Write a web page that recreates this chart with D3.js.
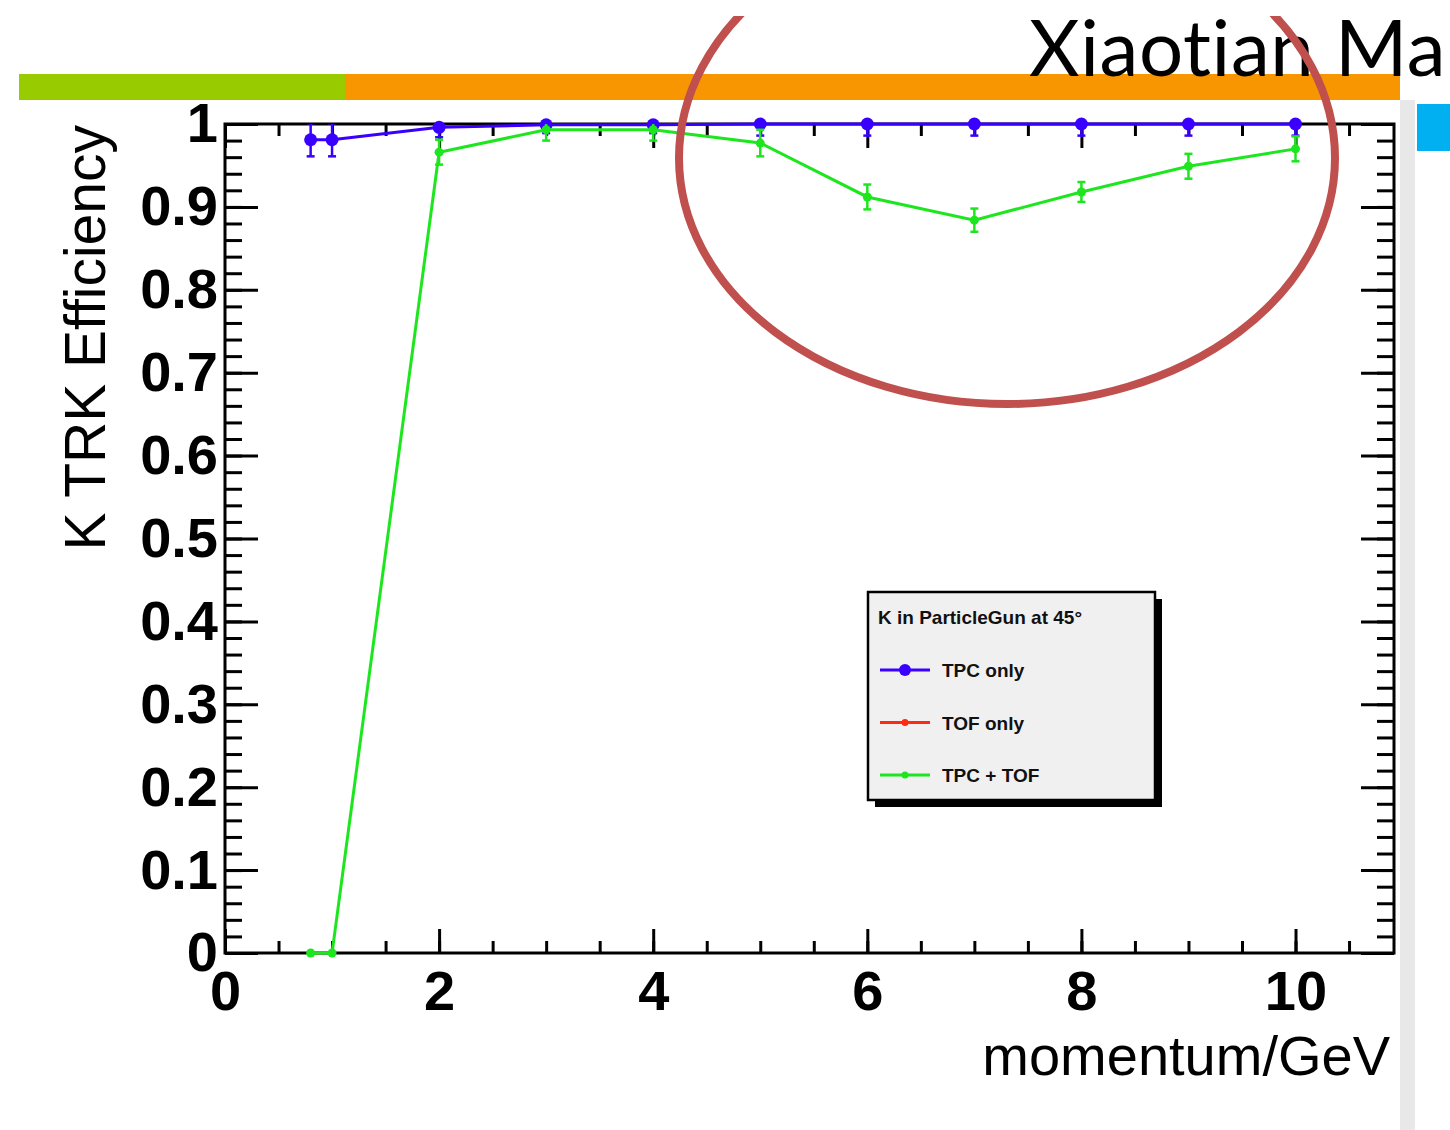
<!DOCTYPE html>
<html>
<head>
<meta charset="utf-8">
<script src="https://cdn.jsdelivr.net/npm/d3@7"></script>
<style>
  html, body { margin: 0; padding: 0; background: #ffffff; }
  svg { display: block; }
</style>
</head>
<body>
<script>
// Kaon tracking efficiency vs. momentum (particle gun at 45 degrees)
const momentum   = [0.8, 1, 2, 3, 4, 5, 6, 7, 8, 9, 10];
const tpcOnly    = [0.981, 0.981, 0.996, 0.999, 0.999, 1.0, 1.0, 1.0, 1.0, 1.0, 1.0];
const tpcOnlyErr = [0.020, 0.020, 0.012, 0.010, 0.010, 0.014, 0.014, 0.014, 0.014, 0.014, 0.014];
const tpcTof     = [0, 0, 0.966, 0.993, 0.993, 0.977, 0.912, 0.884, 0.918, 0.949, 0.970];
const tpcTofErr  = [0, 0, 0.015, 0.013, 0.013, 0.016, 0.015, 0.014, 0.012, 0.015, 0.015];

const xMajorTicks = [0, 2, 4, 6, 8, 10];
const xMinorTicks = d3.range(0, 11, 0.5);
const yMajorTicks = [0, 0.1, 0.2, 0.3, 0.4, 0.5, 0.6, 0.7, 0.8, 0.9, 1];
const yMinorTicks = d3.range(0, 51).map(i => i / 50);

const legendTitle = "K in ParticleGun at 45\u00B0";
const legendNames = ["TPC only", "TOF only", "TPC + TOF"];
const legendColors = ["#3a00ff", "#ff2a12", "#1ee61e"];

const slideTitle = "Xiaotian Ma";
const xTitle = "momentum/GeV";
const yTitle = "K TRK Efficiency";

const W = 1450, H = 1130;
const svg = d3.select("body").append("svg")
  .attr("width", W).attr("height", H)
  .attr("viewBox", `0 0 ${W} ${H}`);

svg.append("rect").attr("width", W).attr("height", H).attr("fill", "#ffffff");

// slide decoration
svg.append("rect").attr("x", 1400).attr("y", 100).attr("width", 15).attr("height", H - 100).attr("fill", "#e8e8e8");
svg.append("rect").attr("x", 19).attr("y", 74).attr("width", 326).attr("height", 26).attr("fill", "#99cc00");
svg.append("rect").attr("x", 345).attr("y", 74).attr("width", 1055).attr("height", 26).attr("fill", "#f79600");
svg.append("rect").attr("x", 1417).attr("y", 104).attr("width", 40).attr("height", 47).attr("fill", "#00b0f0");

svg.append("text")
  .attr("x", 1029).attr("y", 76)
  .attr("font-family", "Lato, 'Open Sans', sans-serif")
  .attr("font-size", 78)
  .attr("letter-spacing", 0.6)
  .style("font-variant-ligatures", "none")
  .style("font-feature-settings", "'liga' 0, 'clig' 0")
  .attr("fill", "#000")
  .text(slideTitle);

// plot frame geometry
const frameL = 225, frameR = 1394, frameT = 124, frameB = 953;
const x = d3.scaleLinear().domain([0, 10.92]).range([frameL, frameR]);
const y = d3.scaleLinear().domain([0, 1]).range([frameB, frameT]);

const fontAxis = "'Liberation Sans', Arial, Helvetica, sans-serif";

function styleAxis(g) {
  g.select(".domain").remove();
  g.selectAll(".tick line").attr("stroke", "#000").attr("stroke-width", 3);
}

// minor ticks
svg.append("g").attr("transform", `translate(0,${frameB})`)
  .call(d3.axisBottom(x).tickValues(xMinorTicks).tickSize(-12).tickFormat(""))
  .call(styleAxis);
svg.append("g").attr("transform", `translate(0,${frameT})`)
  .call(d3.axisTop(x).tickValues(xMinorTicks).tickSize(-12).tickFormat(""))
  .call(styleAxis);
svg.append("g").attr("transform", `translate(${frameL},0)`)
  .call(d3.axisLeft(y).tickValues(yMinorTicks).tickSize(-17).tickFormat(""))
  .call(styleAxis);
svg.append("g").attr("transform", `translate(${frameR},0)`)
  .call(d3.axisRight(y).tickValues(yMinorTicks).tickSize(-17).tickFormat(""))
  .call(styleAxis);

// major ticks with labels
const xAx = svg.append("g").attr("transform", `translate(0,${frameB})`)
  .call(d3.axisBottom(x).tickValues(xMajorTicks).tickSize(-24).tickPadding(17).tickFormat(d => String(d)))
  .call(styleAxis);
xAx.selectAll(".tick text")
  .attr("font-family", fontAxis).attr("font-weight", "bold").attr("font-size", 56).attr("fill", "#000");

svg.append("g").attr("transform", `translate(0,${frameT})`)
  .call(d3.axisTop(x).tickValues(xMajorTicks).tickSize(-24).tickFormat(""))
  .call(styleAxis);

const yAx = svg.append("g").attr("transform", `translate(${frameL},0)`)
  .call(d3.axisLeft(y).tickValues(yMajorTicks).tickSize(-33).tickPadding(7).tickFormat(d => String(d)))
  .call(styleAxis);
yAx.selectAll(".tick text")
  .attr("font-family", fontAxis).attr("font-weight", "bold").attr("font-size", 56).attr("fill", "#000");

svg.append("g").attr("transform", `translate(${frameR},0)`)
  .call(d3.axisRight(y).tickValues(yMajorTicks).tickSize(-33).tickFormat(""))
  .call(styleAxis);

// frame
svg.append("rect")
  .attr("x", frameL).attr("y", frameT).attr("width", frameR - frameL).attr("height", frameB - frameT)
  .attr("fill", "none").attr("stroke", "#000").attr("stroke-width", 3);

// axis titles
svg.append("text")
  .attr("x", 1390).attr("y", 1075)
  .attr("text-anchor", "end")
  .attr("font-family", fontAxis).attr("font-size", 56).attr("fill", "#000")
  .text(xTitle);

svg.append("text")
  .attr("transform", `translate(105,125) rotate(-90)`)
  .attr("text-anchor", "end")
  .attr("font-family", fontAxis).attr("font-size", 57).attr("fill", "#000")
  .text(yTitle);

// data
svg.append("clipPath").attr("id", "plotClip")
  .append("rect").attr("x", frameL).attr("y", frameT - 8).attr("width", frameR - frameL).attr("height", frameB - frameT + 16);
svg.append("clipPath").attr("id", "frameClip")
  .append("rect").attr("x", frameL).attr("y", frameT).attr("width", frameR - frameL).attr("height", frameB - frameT);

const plot = svg.append("g").attr("clip-path", "url(#plotClip)");

function drawSeries(vals, errs, color, r) {
  const pts = momentum.map((m, i) => ({ m, v: vals[i], e: errs[i] }));
  const g = plot.append("g");
  g.append("path")
    .datum(pts)
    .attr("fill", "none")
    .attr("stroke", color)
    .attr("stroke-width", 3)
    .attr("d", d3.line().x(d => x(d.m)).y(d => y(d.v)));
  const eb = g.append("g").attr("clip-path", "url(#frameClip)");
  pts.filter(d => d.e > 0).forEach(d => {
    const y1 = y(Math.min(d.v + d.e, 1)), y2 = y(d.v - d.e);
    eb.append("line").attr("x1", x(d.m)).attr("x2", x(d.m)).attr("y1", y1).attr("y2", y2)
      .attr("stroke", color).attr("stroke-width", 2.5);
    [y(d.v + d.e), y2].forEach(yy => {
      eb.append("line").attr("x1", x(d.m) - 4).attr("x2", x(d.m) + 4).attr("y1", yy).attr("y2", yy)
        .attr("stroke", color).attr("stroke-width", 2.5);
    });
  });
  g.selectAll("circle").data(pts).join("circle")
    .attr("cx", d => x(d.m)).attr("cy", d => y(d.v)).attr("r", r)
    .attr("fill", color);
}

drawSeries(tpcOnly, tpcOnlyErr, legendColors[0], 6.5);
drawSeries(tpcTof, tpcTofErr, legendColors[2], 4.5);

// legend
const lg = svg.append("g");
lg.append("rect").attr("x", 875).attr("y", 599).attr("width", 287).attr("height", 208).attr("fill", "#000");
lg.append("rect").attr("x", 868).attr("y", 592).attr("width", 287).attr("height", 208)
  .attr("fill", "#f0f0f0").attr("stroke", "#000").attr("stroke-width", 2.5);
lg.append("text").attr("x", 878).attr("y", 624)
  .attr("font-family", fontAxis).attr("font-weight", "bold").attr("font-size", 19).attr("fill", "#111")
  .text(legendTitle);
const markerR = [6, 3.5, 3.5];
legendNames.forEach((name, i) => {
  const yy = 670 + i * 52.5;
  lg.append("line").attr("x1", 880).attr("x2", 930).attr("y1", yy).attr("y2", yy)
    .attr("stroke", legendColors[i]).attr("stroke-width", 3);
  lg.append("circle").attr("cx", 905).attr("cy", yy).attr("r", markerR[i]).attr("fill", legendColors[i]);
  lg.append("text").attr("x", 942).attr("y", yy + 7)
    .attr("font-family", fontAxis).attr("font-weight", "bold").attr("font-size", 19).attr("fill", "#111")
    .text(name);
});

// highlight ring around the high-momentum region
svg.append("clipPath").attr("id", "slideClip")
  .append("rect").attr("x", 0).attr("y", 16).attr("width", W).attr("height", H - 16);
svg.append("ellipse")
  .attr("clip-path", "url(#slideClip)")
  .attr("cx", 1007).attr("cy", 158).attr("rx", 328).attr("ry", 246)
  .attr("fill", "none").attr("stroke", "#c0504d").attr("stroke-width", 8);
</script>
</body>
</html>
